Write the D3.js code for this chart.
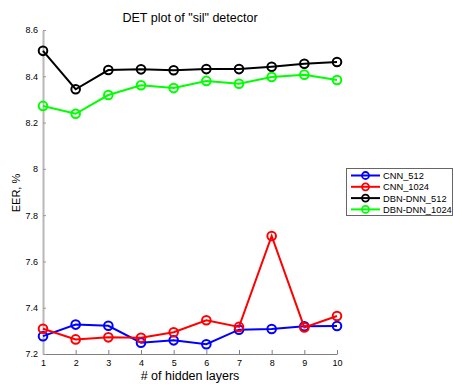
<!DOCTYPE html>
<html><head><meta charset="utf-8">
<script src="https://cdn.jsdelivr.net/npm/d3@7"></script>
<style>body{margin:0;background:#fff;}svg{display:block;font-family:"Liberation Sans",Arial,sans-serif;}</style>
</head><body><svg id="c" width="454" height="384"></svg>
<script>
const layers = [1,2,3,4,5,6,7,8,9,10];
const cnn512 = [7.277,7.327,7.322,7.249,7.259,7.242,7.305,7.308,7.320,7.321];
const cnn1024 = [7.309,7.263,7.272,7.270,7.294,7.346,7.317,7.710,7.315,7.364];
const dbn512 = [8.510,8.344,8.427,8.430,8.426,8.431,8.431,8.441,8.454,8.462];
const dbn1024 = [8.272,8.238,8.319,8.361,8.349,8.380,8.368,8.397,8.407,8.384];
const seriesNames = ["CNN_512","CNN_1024","DBN-DNN_512","DBN-DNN_1024"];
const seriesColors = ["#0000ff","#ff0000","#000000","#00ff00"];
const yTicks = [7.2,7.4,7.6,7.8,8,8.2,8.4,8.6];
const title = 'DET plot of "sil" detector';
const xLabel = "# of hidden layers";
const yLabel = "EER, %";

const allSeries = [cnn512, cnn1024, dbn512, dbn1024];
const svg = d3.select("#c");
const x = d3.scaleLinear().domain([1,10]).range([43,337]);
const y = d3.scaleLinear().domain([7.2,8.6]).range([354,30]);

// x axis
const xa = svg.append("g").attr("transform","translate(0,354)")
  .call(d3.axisBottom(x).tickValues(layers).tickFormat(d3.format("d")).tickSizeInner(-4).tickSizeOuter(0).tickPadding(6));
xa.select(".domain").attr("stroke","#808080").attr("stroke-width",1.2);
xa.selectAll(".tick line").attr("stroke","#808080");
xa.selectAll("text").attr("font-size",9).attr("fill","#000");

// y axis
const ya = svg.append("g").attr("transform","translate(43,0)")
  .call(d3.axisLeft(y).tickValues(yTicks).tickFormat(d=>String(d)).tickSizeInner(-3).tickSizeOuter(0).tickPadding(5));
ya.select(".domain").attr("stroke","#b8b8b8").attr("stroke-width",2);
ya.selectAll(".tick line").attr("stroke","#999");
ya.selectAll("text").attr("font-size",9).attr("fill","#000");

// lines
const line = d3.line().x((d,i)=>x(layers[i])).y(d=>y(d));
allSeries.forEach((s,k)=>{
  svg.append("path").datum(s).attr("d",line).attr("fill","none")
    .attr("stroke",seriesColors[k]).attr("stroke-width",2);
  svg.append("g").selectAll("circle").data(s).join("circle")
    .attr("cx",(d,i)=>x(layers[i])).attr("cy",d=>y(d)).attr("r",4.3)
    .attr("fill","none").attr("stroke",seriesColors[k]).attr("stroke-width",2);
});

// title and labels
svg.append("text").attr("x",190).attr("y",22).attr("text-anchor","middle").attr("font-size",12.5).text(title);
svg.append("text").attr("x",190).attr("y",380).attr("text-anchor","middle").attr("font-size",12.5).text(xLabel);
svg.append("text").attr("transform","translate(20,193) rotate(-90)").attr("text-anchor","middle").attr("font-size",11).text(yLabel);

// legend
const lg = svg.append("g");
lg.append("rect").attr("x",346.5).attr("y",168.5).attr("width",106).attr("height",47)
  .attr("fill","#fff").attr("stroke","#666").attr("stroke-width",1);
seriesNames.forEach((n,k)=>{
  const yy = 175.5 + k*11.3;
  lg.append("line").attr("x1",351).attr("x2",380).attr("y1",yy).attr("y2",yy)
    .attr("stroke",seriesColors[k]).attr("stroke-width",2);
  lg.append("circle").attr("cx",365.5).attr("cy",yy).attr("r",3.5).attr("fill","none")
    .attr("stroke",seriesColors[k]).attr("stroke-width",1.8);
  lg.append("text").attr("x",383).attr("y",yy+3.5).attr("font-size",9.3).text(n);
});
</script></body></html>
